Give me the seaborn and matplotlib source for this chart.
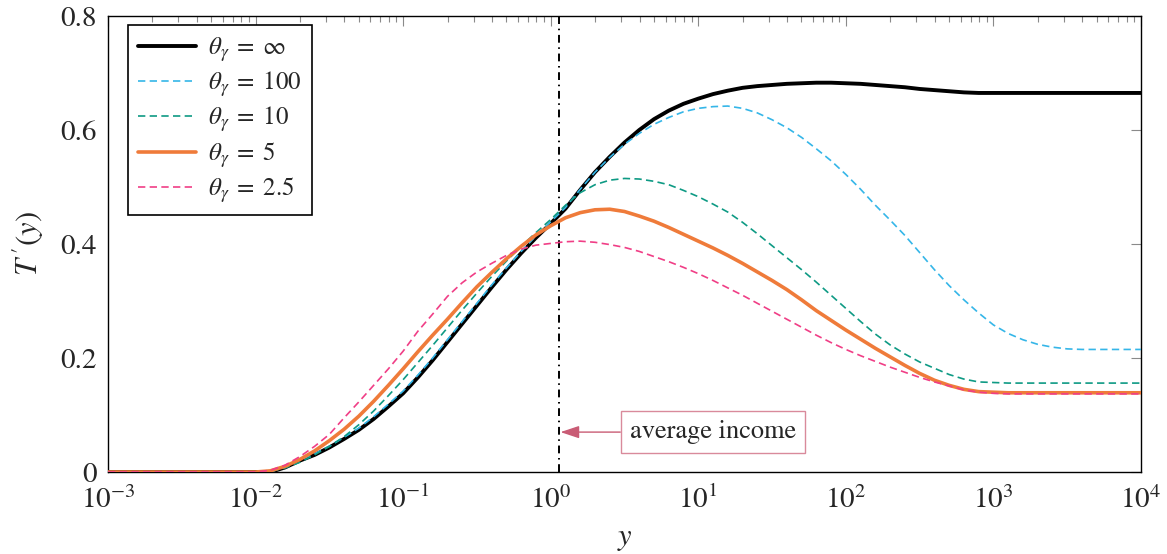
import numpy as np
import pandas as pd
import matplotlib
matplotlib.use("Agg")
import matplotlib.pyplot as plt
from matplotlib.ticker import LogLocator, NullFormatter, FixedLocator, FixedFormatter
import seaborn as sns

# log10 of income y at which the marginal tax rates are tabulated
log_income = [-3.0, -2.0,
              -1.9, -1.8, -1.7, -1.6, -1.5, -1.4, -1.3, -1.2, -1.1, -1.0,
              -0.9, -0.8, -0.7, -0.6, -0.5, -0.4, -0.3, -0.2, -0.1, 0.0,
              0.1, 0.2, 0.3, 0.4, 0.5, 0.6, 0.7, 0.8, 0.9, 1.0,
              1.1, 1.2, 1.3, 1.4, 1.5, 1.6, 1.7, 1.8, 1.9, 2.0,
              2.1, 2.2, 2.3, 2.4, 2.5, 2.6, 2.7, 2.8, 2.9, 3.0,
              3.1, 3.2, 3.3, 3.4, 3.5, 3.6,
              4.0]

# marginal tax rate T'(y) for each value of theta_gamma
rate_inf = [0, 0,
            0.000, 0.008, 0.020, 0.030, 0.043, 0.058, 0.074, 0.093, 0.115, 0.138,
            0.166, 0.196, 0.228, 0.260, 0.292, 0.324, 0.355, 0.384, 0.411, 0.436,
            0.462, 0.495, 0.526, 0.553, 0.578, 0.600, 0.619, 0.634, 0.646, 0.655,
            0.663, 0.669, 0.674, 0.677, 0.679, 0.681, 0.682, 0.683, 0.683, 0.682,
            0.681, 0.679, 0.677, 0.675, 0.672, 0.670, 0.668, 0.666, 0.665, 0.665,
            0.665, 0.665, 0.665, 0.665, 0.665, 0.665,
            0.665]
rate_100 = [0, 0,
            0.000, 0.009, 0.021, 0.032, 0.045, 0.061, 0.077, 0.097, 0.119, 0.142,
            0.170, 0.200, 0.232, 0.264, 0.296, 0.328, 0.358, 0.387, 0.414, 0.439,
            0.464, 0.496, 0.526, 0.552, 0.575, 0.594, 0.610, 0.622, 0.632, 0.638,
            0.641, 0.642, 0.638, 0.630, 0.618, 0.604, 0.587, 0.567, 0.546, 0.522,
            0.496, 0.468, 0.442, 0.415, 0.385, 0.355, 0.327, 0.302, 0.279, 0.258,
            0.243, 0.232, 0.224, 0.219, 0.216, 0.215,
            0.215]
rate_10 = [0, 0,
           0.001, 0.007, 0.017, 0.030, 0.045, 0.062, 0.083, 0.107, 0.134, 0.162,
           0.192, 0.222, 0.253, 0.284, 0.314, 0.343, 0.370, 0.396, 0.420, 0.443,
           0.468, 0.490, 0.504, 0.512, 0.515, 0.514, 0.510, 0.504, 0.494, 0.483,
           0.470, 0.456, 0.438, 0.418, 0.397, 0.376, 0.355, 0.333, 0.310, 0.287,
           0.264, 0.242, 0.223, 0.207, 0.193, 0.182, 0.171, 0.163, 0.158, 0.157,
           0.156, 0.156, 0.156, 0.156, 0.156, 0.156,
           0.156]
rate_5 = [0, 0,
          0.002, 0.010, 0.022, 0.037, 0.055, 0.075, 0.098, 0.124, 0.152, 0.181,
          0.211, 0.240, 0.268, 0.297, 0.325, 0.350, 0.374, 0.396, 0.416, 0.432,
          0.446, 0.455, 0.460, 0.461, 0.457, 0.449, 0.440, 0.429, 0.417, 0.405,
          0.393, 0.380, 0.366, 0.351, 0.336, 0.320, 0.302, 0.283, 0.266, 0.249,
          0.233, 0.217, 0.202, 0.187, 0.173, 0.161, 0.152, 0.145, 0.141, 0.140,
          0.139, 0.139, 0.139, 0.139, 0.139, 0.139,
          0.139]
rate_2_5 = [0, 0,
            0.003, 0.012, 0.027, 0.045, 0.066, 0.095, 0.123, 0.152, 0.181, 0.212,
            0.247, 0.277, 0.308, 0.332, 0.351, 0.366, 0.380, 0.391, 0.398, 0.401,
            0.404, 0.405, 0.403, 0.399, 0.394, 0.387, 0.378, 0.369, 0.359, 0.348,
            0.336, 0.323, 0.310, 0.296, 0.282, 0.268, 0.254, 0.240, 0.227, 0.215,
            0.204, 0.194, 0.184, 0.175, 0.166, 0.158, 0.151, 0.144, 0.140, 0.138,
            0.137, 0.137, 0.137, 0.137, 0.137, 0.137,
            0.137]

labels = [r"$\theta_\gamma \;=\; \infty$", r"$\theta_\gamma \;=\; 100$",
          r"$\theta_\gamma \;=\; 10$", r"$\theta_\gamma \;=\; 5$",
          r"$\theta_\gamma \;=\; 2.5$"]

avg_income = 1.14
x_ticks = [1e-3, 1e-2, 1e-1, 1e0, 1e1, 1e2, 1e3, 1e4]
x_tick_labels = [r"$10^{-3}$", r"$10^{-2}$", r"$10^{-1}$", r"$10^{0}$",
                 r"$10^{1}$", r"$10^{2}$", r"$10^{3}$", r"$10^{4}$"]
y_ticks = [0, 0.2, 0.4, 0.6, 0.8]
y_tick_labels = ["0", "0.2", "0.4", "0.6", "0.8"]

sns.set_style("white")
plt.rcParams.update({
    "font.family": ["STIXGeneral", "DejaVu Serif"],
    "mathtext.fontset": "stix",
    "font.size": 20,
})

fig = plt.figure(figsize=(11.67, 5.54), dpi=100)
ax = fig.add_axes([108 / 1167, 1 - 472 / 554, (1141 - 108) / 1167, (472 - 16) / 554])

income = np.power(10.0, log_income)
styles = [
    (rate_inf, "black", 2.8, "-"),
    (rate_100, "#35B6E8", 1.2, (0, (4.4, 2.6))),
    (rate_10, "#0E9A84", 1.2, (0, (4.4, 2.6))),
    (rate_5, "#EF7B3A", 2.6, "-"),
    (rate_2_5, "#F03E86", 1.2, (0, (4.4, 2.6))),
]
for label, (vals, color, lw, ls) in zip(labels, styles):
    df = pd.DataFrame({"y": income, "rate": vals})
    sns.lineplot(data=df, x="y", y="rate", ax=ax, color=color, lw=lw,
                 linestyle=ls, label=label, zorder=3)

ax.axvline(avg_income, color="black", lw=1.4, linestyle=(0, (4.0, 2.4, 0.8, 2.4)), zorder=2)

ax.annotate("average income", xy=(avg_income, 0.07), xytext=(12.6, 0.07),
            fontsize=19, ha="center", va="center",
            bbox=dict(boxstyle="square,pad=0.35", fc="white", ec="#D98A9B", lw=1.0),
            arrowprops=dict(arrowstyle="-|>,head_length=0.6,head_width=0.2",
                            color="#C95C75", lw=1.0, shrinkA=0, shrinkB=1))

ax.set_xscale("log")
ax.set_xlim(1e-3, 1e4)
ax.set_ylim(0, 0.8)
ax.xaxis.set_major_locator(FixedLocator(x_ticks))
ax.xaxis.set_major_formatter(FixedFormatter(x_tick_labels))
ax.xaxis.set_minor_locator(LogLocator(base=10, subs=np.arange(2, 10), numticks=20))
ax.xaxis.set_minor_formatter(NullFormatter())
ax.yaxis.set_major_locator(FixedLocator(y_ticks))
ax.yaxis.set_major_formatter(FixedFormatter(y_tick_labels))

ax.tick_params(which="both", direction="in", top=True, right=True,
               color="#8a8a8a", width=0.8, labelsize=21)
ax.tick_params(which="major", length=7)
ax.tick_params(axis="y", which="major", pad=8)
ax.tick_params(axis="x", which="major", pad=10)
ax.tick_params(which="minor", length=4.5)
for sp in ax.spines.values():
    sp.set_color("black")
    sp.set_linewidth(1.0)

ax.set_xlabel(r"$y$", fontsize=22, labelpad=8)
ax.set_ylabel(r"$T^{\,\prime}(y)$", fontsize=22, labelpad=10)

leg = ax.legend(loc="upper left", bbox_to_anchor=(20 / 1033, 1 - 9 / 456),
                borderaxespad=0, frameon=True, fancybox=False, framealpha=1,
                edgecolor="black", fontsize=18, handlelength=2.3,
                handletextpad=0.5, labelspacing=0.22, borderpad=0.4)
leg.get_frame().set_linewidth(1.2)

fig.savefig("out.png", dpi=100)
